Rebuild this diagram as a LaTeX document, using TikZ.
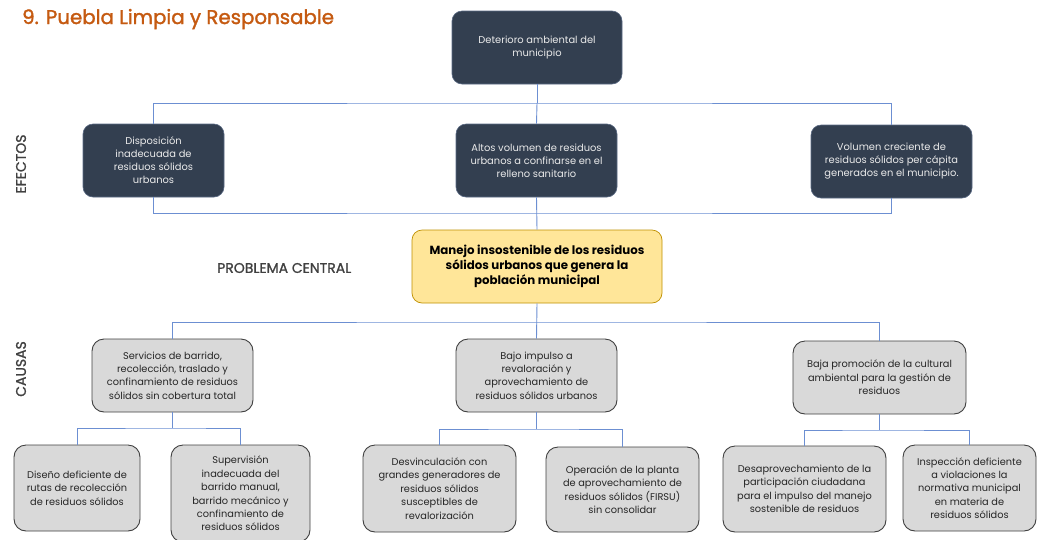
\documentclass[tikz,border=0pt]{standalone}
\usepackage{fontspec}
\setmainfont{Poppins}
\newfontfamily\titlefont[FakeBold=1.6]{Poppins}
\newfontfamily\labfont[FakeBold=1.2]{Poppins}
\usetikzlibrary{positioning}
\definecolor{darkfill}{HTML}{333F50}
\definecolor{darkline}{HTML}{5A6A84}
\definecolor{grayfill}{HTML}{D9D9D9}
\definecolor{grayline}{HTML}{404040}
\definecolor{yelfill}{HTML}{FFE699}
\definecolor{yelline}{HTML}{BF9000}
\definecolor{conn}{HTML}{6C8FD2}
\definecolor{titlecol}{HTML}{C55A11}
\definecolor{labcol}{HTML}{404040}
\tikzset{
  darkbox/.style={draw=darkline, line width=0.6pt, fill=darkfill, rounded corners=10pt,
    text=white!92!black, align=center, inner sep=0pt,
    font=\fontsize{9.9}{13}\selectfont},
  graybox/.style={draw=grayline, line width=0.9pt, fill=grayfill, rounded corners=12pt,
    text=black!85, align=center, inner sep=0pt,
    font=\fontsize{9.8}{13.4}\selectfont},
  yelbox/.style={draw=yelline, line width=0.7pt, fill=yelfill, rounded corners=10pt,
    text=black, align=center, inner sep=0pt,
    font=\bfseries\fontsize{11.8}{15}\selectfont},
  connector/.style={draw=conn, line width=0.9pt},
  sidelab/.style={text=labcol, font=\labfont\fontsize{14}{15}\selectfont, inner sep=0pt},
}
\begin{document}
\begin{tikzpicture}[x=1pt,y=-1pt]
\useasboundingbox (0,0) rectangle (1037,539);
% title
\node[anchor=base west, text=titlecol, font=\titlefont\fontsize{19.8}{21}\selectfont, inner sep=0pt] (title) at (22,24) {9. Puebla Limpia y Responsable};
% side labels
\node[sidelab, rotate=90] (efectos) at (21,164) {EFECTOS};
\node[sidelab, rotate=90] (causas) at (21,369) {CAUSAS};
\node[sidelab, anchor=west] (problema) at (217,268) {PROBLEMA CENTRAL};
% top box
\node[darkbox, minimum width=170pt, minimum height=73pt] (top) at (537,47.5) {Deterioro ambiental del\\municipio};
% effects
\node[darkbox, minimum width=141pt, minimum height=73pt] (e1) at (153.5,160.5) {Disposición\\inadecuada de\\residuos sólidos\\urbanos};
\node[darkbox, minimum width=161pt, minimum height=73pt] (e2) at (536.5,160.5) {Altos volumen de residuos\\urbanos a confinarse en el\\relleno sanitario};
\node[darkbox, minimum width=161pt, minimum height=73pt] (e3) at (891.5,161.5) {Volumen creciente de\\residuos sólidos per cápita\\generados en el municipio.};
% central
\node[yelbox, minimum width=250pt, minimum height=73pt] (c) at (537,266.5) {Manejo insostenible de los residuos\\sólidos urbanos que genera la\\población municipal};
% causes
\node[graybox, minimum width=161pt, minimum height=73pt] (k1) at (172.5,375.5) {Servicios de barrido,\\recolección, traslado y\\confinamiento de residuos\\sólidos sin cobertura total};
\node[graybox, minimum width=161pt, minimum height=73pt] (k2) at (536.5,375.5) {Bajo impulso a\\revaloración y\\aprovechamiento de\\residuos sólidos urbanos};
\node[graybox, minimum width=173pt, minimum height=73pt] (k3) at (879.5,377.5) {Baja promoción de la cultural\\ambiental para la gestión de\\residuos};
% sub causes
\node[graybox, minimum width=126pt, minimum height=86pt] (s1) at (77,488) {Diseño deficiente de\\rutas de recolección\\de residuos sólidos};
\node[graybox, minimum width=139pt, minimum height=97pt] (s2) at (240.5,493.5) {Supervisión\\inadecuada del\\barrido manual,\\barrido mecánico y\\confinamiento de\\residuos sólidos};
\node[graybox, minimum width=153pt, minimum height=87pt] (s3) at (439.5,488.5) {Desvinculación con\\grandes generadores de\\residuos sólidos\\susceptibles de\\revalorización};
\node[graybox, minimum width=153pt, minimum height=85pt] (s4) at (622.5,489.5) {Operación de la planta\\de aprovechamiento de\\residuos sólidos (FIRSU)\\sin consolidar};
\node[graybox, minimum width=163pt, minimum height=86pt] (s5) at (804.5,489) {Desaprovechamiento de la\\participación ciudadana\\para el impulso del manejo\\sostenible de residuos};
\node[graybox, minimum width=133pt, minimum height=86pt] (s6) at (969.5,488) {Inspección deficiente\\a violaciones la\\normativa municipal\\en materia de\\residuos sólidos};
% junctions
\coordinate (jt) at (537,103);
\coordinate (jb) at (537,213);
\coordinate (jc) at (537,322);
\coordinate (j1) at (172.5,428);
\coordinate (j2) at (536.5,429);
\coordinate (j3) at (879.5,430);
% connectors
\draw[connector] (top.south) -- (jt);
\draw[connector] (e1.north) |- (jt) -| (e3.north);
\draw[connector] (jt) -- (e2.north);
\draw[connector] (e1.south) |- (jb) -| (e3.south);
\draw[connector] (e2.south) -- (c.north);
\draw[connector] (c.south) -- (k2.north);
\draw[connector] (k1.north) |- (jc) -| (k3.north);
\draw[connector] (k1.south) -- (j1);
\draw[connector] (s1.north) |- (j1) -| (s2.north);
\draw[connector] (k2.south) -- (j2);
\draw[connector] (s3.north) |- (j2) -| (s4.north);
\draw[connector] (k3.south) -- (j3);
\draw[connector] (s5.north) |- (j3) -| (s6.north);
\end{tikzpicture}
\end{document}
